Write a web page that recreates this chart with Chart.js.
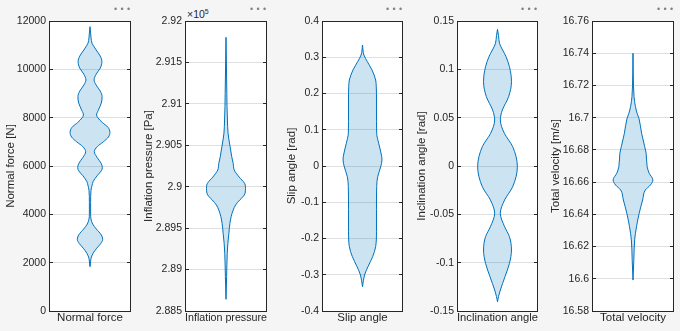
<!DOCTYPE html>
<html>
<head>
<meta charset="utf-8">
<script src="https://cdn.jsdelivr.net/npm/chart.js@4.4.0/dist/chart.umd.min.js"></script>
<style>
  body { margin: 0; background: #f5f5f5; width: 680px; height: 331px; position: relative; overflow: hidden;
         font-family: "Liberation Sans", Arial, sans-serif; }
  canvas { position: absolute; top: 0; }
  .dots { position: absolute; top: 4px; font-size: 9px; line-height: 10px; letter-spacing: 3.3px; color: #808080; }
  .exp { position: absolute; left: 187px; top: 8px; font-size: 10.5px; line-height: 12px; color: #262626; }
  .exp sup { font-size: 7px; vertical-align: 4px; line-height: 0; }
</style>
</head>
<body>
<span class="exp">×10<sup>5</sup></span>
<script>
// violin outlines: Y = value, W = relative half width (density)
const normalForceY = [1834, 1950, 2180, 2387, 2600, 2800, 2966, 3150, 3400, 3600, 3800, 4000, 4500, 5000, 5200, 5351,
  5600, 5800, 5931, 6100, 6350, 6593, 6800, 7000, 7200, 7393, 7600, 7800, 8000, 8110, 8300, 8600, 8869, 9100,
  9350, 9559, 9800, 10050, 10317, 10550, 10800, 11000, 11077, 11300, 11500, 11766];
const normalForceW = [0, 0.02, 0.05, 0.15, 0.33, 0.53, 0.62, 0.55, 0.3, 0.13, 0.05, 0.03, 0.03, 0.05, 0.1, 0.15,
  0.35, 0.55, 0.6, 0.55, 0.35, 0.21, 0.35, 0.65, 0.9, 0.97, 0.88, 0.6, 0.38, 0.32, 0.4, 0.55, 0.59, 0.5,
  0.3, 0.2, 0.3, 0.5, 0.58, 0.5, 0.3, 0.15, 0.1, 0.05, 0.03, 0];

// inflation pressure in units of 1e5 Pa
const pressureY = [2.88641, 2.88914, 2.89196, 2.89317, 2.89438, 2.89558, 2.89638, 2.89718, 2.8978, 2.8984, 2.8988,
  2.89921, 2.8998, 2.9002, 2.90061, 2.901, 2.90162, 2.90202, 2.90283, 2.90362, 2.90483, 2.90645, 2.90805,
  2.90966, 2.91128, 2.91803];
const pressureW = [0, 0.03, 0.06, 0.09, 0.14, 0.19, 0.25, 0.35, 0.47, 0.67, 0.83, 0.93, 0.95, 0.94, 0.85, 0.7,
  0.5, 0.4, 0.35, 0.28, 0.2, 0.1, 0.07, 0.05, 0.04, 0];

const slipY = [-0.333, -0.3007, -0.2778, -0.2502, -0.2226, -0.18, -0.12, -0.057, -0.0295, -0.0019, 0.0166, 0.0257,
  0.0626, 0.0902, 0.1545, 0.2005, 0.2188, 0.2372, 0.2648, 0.2877, 0.3062, 0.3338];
const slipW = [0, 0.1, 0.27, 0.5, 0.65, 0.69, 0.69, 0.7, 0.75, 0.9, 0.96, 0.95, 0.8, 0.7, 0.69, 0.69, 0.68, 0.65,
  0.47, 0.24, 0.07, 0];

const inclinationY = [-0.1404, -0.135, -0.1283, -0.1145, -0.1007, -0.0869, -0.0731, -0.0628, -0.0489, -0.0352,
  -0.0214, -0.0007, 0.02, 0.0338, 0.0476, 0.0579, 0.0717, 0.0872, 0.1027, 0.1131, 0.1269, 0.135, 0.1414];
const inclinationW = [0, 0.05, 0.14, 0.37, 0.59, 0.69, 0.59, 0.35, 0.14, 0.35, 0.75, 0.98, 0.75, 0.34, 0.14, 0.24,
  0.55, 0.69, 0.59, 0.42, 0.1, 0.05, 0];

const velocityY = [16.5992, 16.6117, 16.6241, 16.6323, 16.6406, 16.6489, 16.6551, 16.6582, 16.6613, 16.6655,
  16.6696, 16.6779, 16.682, 16.6903, 16.6996, 16.7027, 16.7068, 16.713, 16.74];
const velocityW = [0, 0.04, 0.08, 0.17, 0.3, 0.47, 0.6, 0.85, 0.97, 0.79, 0.69, 0.64, 0.57, 0.42, 0.29, 0.2, 0.12,
  0.05, 0];

const names = ['Normal force', 'Inflation pressure', 'Slip angle', 'Inclination angle', 'Total velocity'];
const yTitles = ['Normal force [N]', 'Inflation pressure [Pa]', 'Slip angle [rad]', 'Inclination angle [rad]', 'Total velocity [m/s]'];
const yMins = [0, 2.885, -0.4, -0.15, 16.58];
const yMaxs = [12000, 2.92, 0.4, 0.15, 16.76];
const ySteps = [2000, 0.005, 0.1, 0.05, 0.02];
const seriesY = [normalForceY, pressureY, slipY, inclinationY, velocityY];
const seriesW = [normalForceW, pressureW, slipW, inclinationW, velocityW];

// layout of the five axes boxes
const boxLeft = [49, 185, 322, 457, 592];
const boxRight = [130, 266, 402, 537, 673];
const titleX = [10.5, 149, 292, 422, 556];
const axisW = 45;
const padRight = 8;

const dark = '#262626';
const blue = '#0072BD';
const font = 'Liberation Sans, Arial, sans-serif';

const boxPlugin = {
  id: 'box',
  beforeDraw(chart) {
    const a = chart.chartArea, ctx = chart.ctx;
    ctx.save();
    ctx.fillStyle = '#ffffff';
    ctx.fillRect(a.left, a.top, a.right - a.left, a.bottom - a.top + 1);
    ctx.restore();
  },
  afterDraw(chart) {
    const a = chart.chartArea, ctx = chart.ctx, ys = chart.scales.y;
    ctx.save();
    ctx.strokeStyle = dark;
    ctx.lineWidth = 1;
    ctx.strokeRect(a.left + 0.5, a.top + 0.5, a.right - a.left - 1, a.bottom - a.top);
    ctx.beginPath();
    ys.ticks.forEach(t => {
      const py = Math.round(ys.getPixelForValue(t.value) - 0.5) + 0.5;
      ctx.moveTo(a.left, py); ctx.lineTo(a.left + 4, py);
      ctx.moveTo(a.right, py); ctx.lineTo(a.right - 4, py);
    });
    ctx.stroke();
    ctx.restore();
  }
};

for (let i = 0; i < names.length; i++) {
  const left = boxLeft[i] - axisW;
  const w = axisW + (boxRight[i] - boxLeft[i] + 1) + padRight;
  const cv = document.createElement('canvas');
  cv.width = w; cv.height = 331;
  cv.style.left = left + 'px';
  document.body.appendChild(cv);

  const dots = document.createElement('span');
  dots.className = 'dots';
  dots.textContent = '•••';
  dots.style.left = (boxRight[i] - 16) + 'px';
  document.body.appendChild(dots);

  const ys = seriesY[i], ws = seriesW[i];
  new Chart(cv, {
    type: 'line',
    data: {
      datasets: [{
        data: ys.map((v, k) => ({ x: ws[k], y: v })),
        borderColor: blue, borderWidth: 1,
        backgroundColor: 'rgba(0,114,189,0.2)',
        fill: '+1', pointRadius: 0, cubicInterpolationMode: 'monotone'
      }, {
        data: ys.map((v, k) => ({ x: -ws[k], y: v })),
        borderColor: blue, borderWidth: 1,
        fill: false, pointRadius: 0, cubicInterpolationMode: 'monotone'
      }]
    },
    options: {
      indexAxis: 'y',
      responsive: false,
      animation: false,
      layout: { padding: { top: 21, left: 0, right: padRight, bottom: 0 } },
      plugins: { legend: { display: false }, tooltip: { enabled: false } },
      scales: {
        x: {
          type: 'linear', min: -2, max: 2,
          grid: { display: false, drawTicks: false },
          border: { display: false },
          ticks: { display: false },
          title: { display: true, text: names[i], color: dark,
                   font: { family: font, size: 11.5 }, padding: { top: 0, bottom: 6 } },
          afterFit(s) { s.height = 20; }
        },
        y: {
          type: 'linear', min: yMins[i], max: yMaxs[i],
          grid: { color: '#dfdfdf', drawTicks: false },
          border: { display: false },
          ticks: {
            stepSize: ySteps[i], padding: 3, color: dark,
            font: { family: font, size: 10.5 },
            callback: v => String(Number(v.toFixed(4)))
          },
          title: { display: true, text: yTitles[i], color: dark,
                   font: { family: font, size: 11.5 },
                   padding: { top: Math.max(0, titleX[i] - left - 6.9), bottom: 0 } },
          afterFit(s) { s.width = axisW; }
        }
      }
    },
    plugins: [boxPlugin]
  });
}
</script>
</body>
</html>
